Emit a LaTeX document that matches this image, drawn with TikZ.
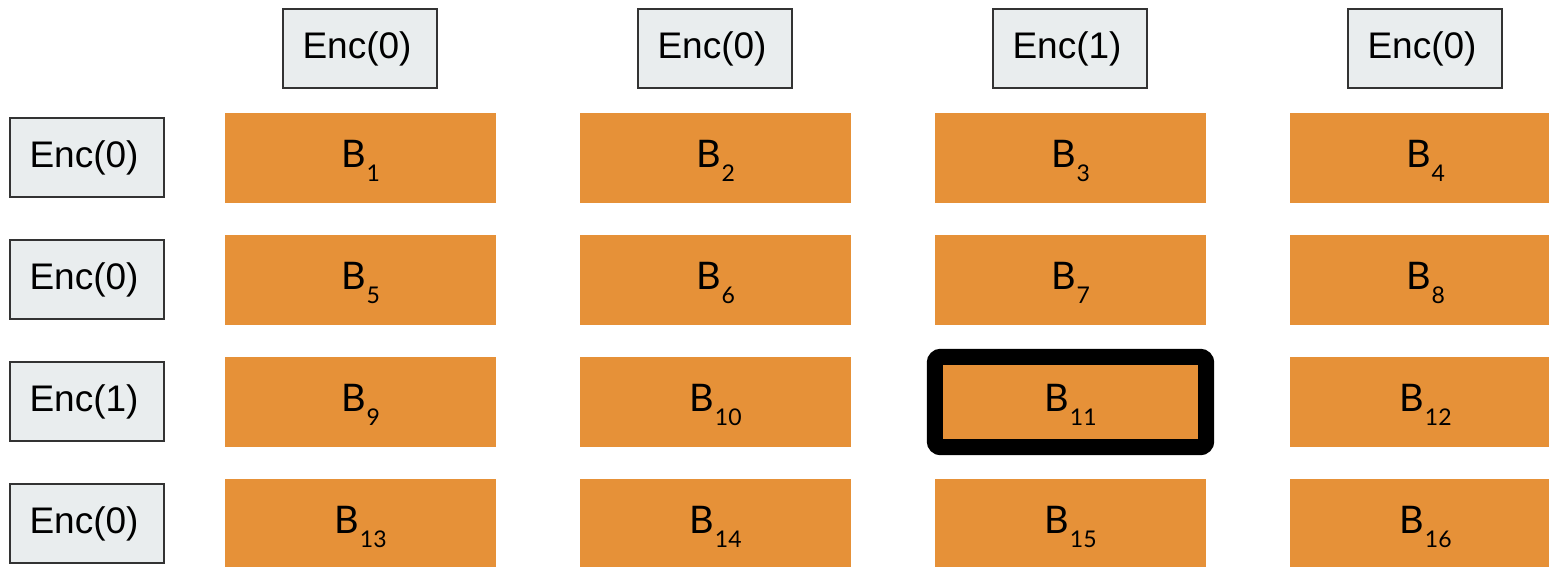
\documentclass[tikz,border=0pt]{standalone}
\usepackage{fontspec}
\setmainfont{Liberation Sans}
\newfontfamily\latofont{Lato}
\definecolor{blockorange}{HTML}{E69138}
\definecolor{encgray}{HTML}{E9EDEE}
\definecolor{encedge}{HTML}{333333}
\tikzset{
  encbox/.style={draw=encedge, line width=1.6pt, fill=encgray, inner sep=0pt,
    minimum width=154pt, minimum height=79pt,
    font=\fontsize{37}{40}\selectfont},
  blockbox/.style={fill=blockorange, inner sep=0pt,
    minimum width=271pt, minimum height=90pt},
  blocklabel/.style={anchor=base, inner sep=0pt},
  highlight/.style={draw=black, line width=16pt, rounded corners=6pt}
}
% block label: Lato "B" with a lowered subscript index
\newcommand{\blk}[1]{\latofont\fontsize{38}{40}\selectfont B\kern1pt\raisebox{-14pt}{\fontsize{23}{25}\selectfont #1}}
% header text, set a little left of the box centre
\newcommand{\enc}[1]{Enc(#1)\kern6pt}
\begin{document}
\begin{tikzpicture}[x=1pt,y=-1pt]
  \useasboundingbox (0,0) rectangle (1549,566);
  \clip (0,0) rectangle (1549,566);
  % column headers
  \foreach \c/\v in {1/0,2/0,3/1,4/0}
    \node[encbox] (t\c) at ({360+355*(\c-1)},48.5) {\enc{\v}};
  % row headers
  \foreach \r/\v in {1/0,2/0,3/1,4/0}
    \node[encbox] (l\r) at (87,{157.5+122*(\r-1)}) {\enc{\v}};
  % grid of blocks, each labelled with its index
  \foreach \r in {1,...,4}
    \foreach \c in {1,...,4} {
      \pgfmathtruncatemacro{\k}{4*(\r-1)+\c}
      \node[blockbox] (b\k) at ({360.5+355*(\c-1)},{158+122*(\r-1)}) {};
      \node[blocklabel] (bl\k) at ([yshift=-9pt]b\k.center) {\blk{\k}};
    }
  % selected block
  \draw[highlight] (b11.north west) rectangle (b11.south east);
\end{tikzpicture}
\end{document}
